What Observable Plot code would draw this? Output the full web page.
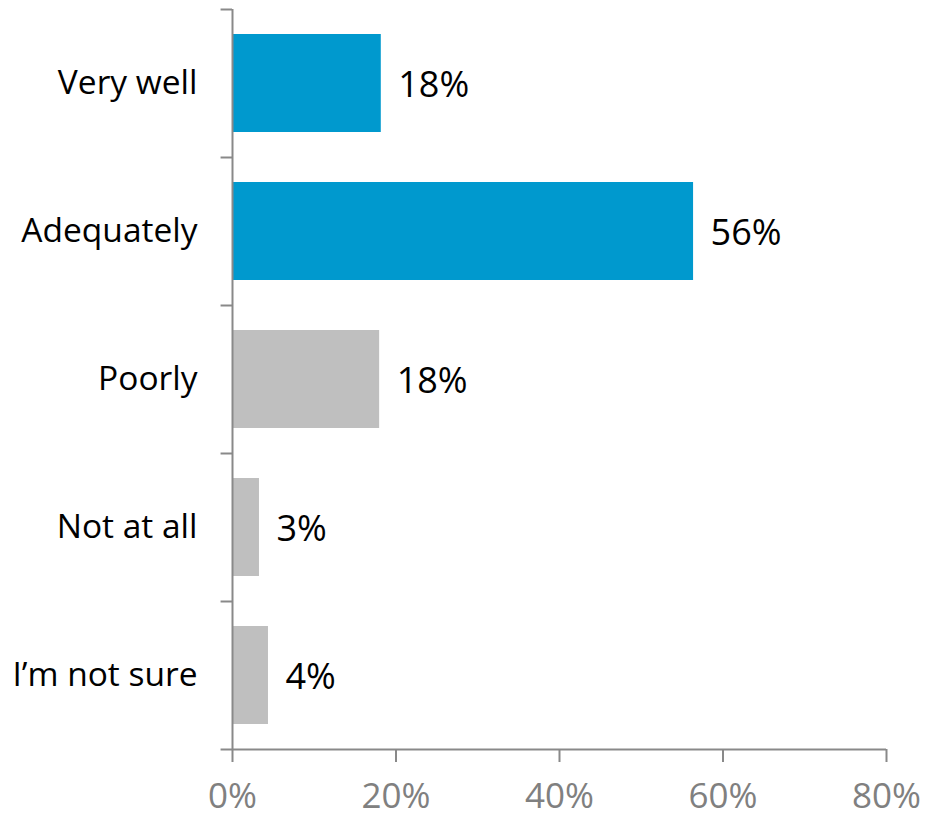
<!DOCTYPE html>
<html>
<head>
<meta charset="utf-8">
<script src="https://cdn.jsdelivr.net/npm/d3@7"></script>
<script src="https://cdn.jsdelivr.net/npm/@observablehq/plot@0.6"></script>
<style>
  html, body { margin: 0; padding: 0; background: #fff; }
</style>
</head>
<body>
<div id="chart"></div>
<script>
const categories = ["Very well", "Adequately", "Poorly", "Not at all", "I\u2019m not sure"];
const values = [18.2, 56.4, 18.0, 3.3, 4.4];
const labels = ["18%", "56%", "18%", "3%", "4%"];
const groups = ["positive", "positive", "other", "other", "other"];
const xTicks = [0, 20, 40, 60, 80];

const data = categories.map((c, i) => ({category: c, value: values[i], label: labels[i], group: groups[i]}));
const axisColor = "#898989";
const step = (749 - 9) / categories.length;

const chart = Plot.plot({
  width: 926,
  height: 822,
  marginLeft: 232,
  marginRight: 40,
  marginTop: 9,
  marginBottom: 73,
  style: {fontFamily: "'Open Sans', sans-serif", background: "#fff", overflow: "visible"},
  x: {domain: [0, 80], ticks: xTicks, axis: null, label: null},
  y: {domain: categories, paddingInner: 0.338, paddingOuter: 0.169, axis: null, label: null},
  color: {domain: ["positive", "other"], range: ["#0099CE", "#BFBFBF"]},
  marks: [
    Plot.barX(data, {x: "value", y: "category", fill: "group"}),
    Plot.ruleX([0], {stroke: axisColor, strokeWidth: 2}),
    Plot.ruleY(categories, {y: d => d, x1: -1.4, x2: 0, dy: -step / 2, stroke: axisColor, strokeWidth: 2}),
    Plot.ruleY([categories[categories.length - 1]], {y: d => d, x1: -1.4, x2: 80, dy: step / 2, stroke: axisColor, strokeWidth: 2}),
    Plot.axisX({ticks: xTicks, tickFormat: d => d + "%", tickSize: 13, tickPadding: 21, fontSize: 35, label: null, stroke: axisColor, strokeWidth: 2, fill: "#808080"}),
    Plot.axisY({tickSize: 0, tickPadding: 35, fontSize: 33.5, label: null, fill: "#000", textAnchor: "end"}),
    Plot.text(data, {x: "value", y: "category", text: "label", textAnchor: "start", dx: 17, dy: 2, fontSize: 36, fill: "#000"})
  ]
});
document.getElementById("chart").appendChild(chart);
</script>
</body>
</html>
